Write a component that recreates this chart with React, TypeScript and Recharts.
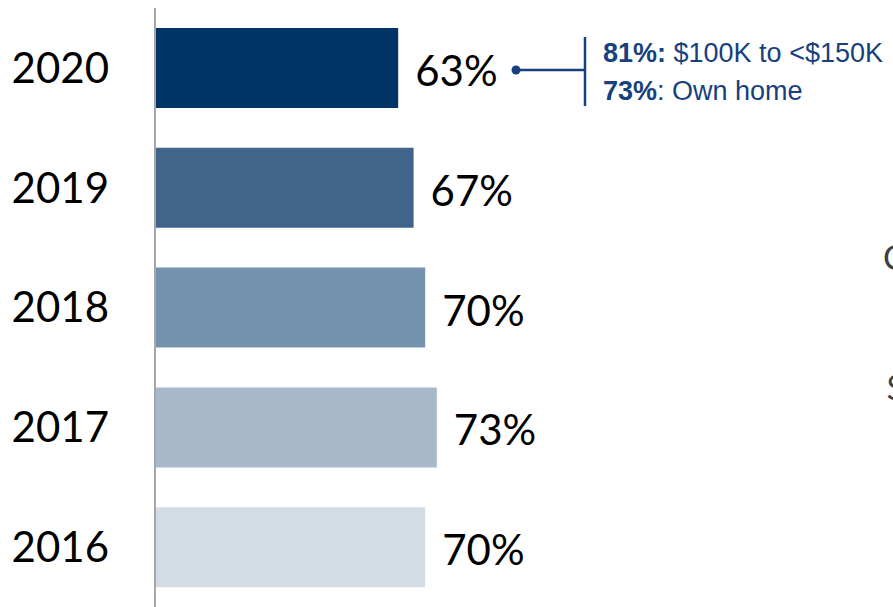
import { BarChart, Bar, XAxis, YAxis, Cell, LabelList } from 'recharts';

const years = ['2020', '2019', '2018', '2017', '2016'];
const shares = [63, 67, 70, 73, 70];
const COLORS = ['#003366', '#41658A', '#7491AE', '#A7B8CB', '#D3DCE5'];

const noteLines = [
  { lead: '81%:', rest: ' $100K to <$150K' },
  { lead: '73%', rest: ': Own home' },
];

const data = years.map((year, i) => ({ year, value: shares[i] }));

const NAVY = '#17407E';

export default function App() {
  return (
    <div style={{ position: 'absolute', left: 0, top: 0, width: 893, height: 607, overflow: 'hidden', background: '#fff' }}>
      <BarChart
        width={893}
        height={607}
        data={data}
        layout="vertical"
        margin={{ top: 8, right: 352, bottom: 0, left: 0 }}
      >
        <XAxis type="number" domain={[0, 100]} hide />
        <YAxis
          type="category"
          dataKey="year"
          width={155}
          tickLine={false}
          tickSize={0}
          tickMargin={46}
          axisLine={{ stroke: '#A6A6A6', strokeWidth: 2 }}
          tick={{ fill: '#000', fontSize: 42, fontFamily: 'Lato' }}
        />
        <Bar dataKey="value" barSize={80} isAnimationActive={false}>
          {data.map((entry, index) => (
            <Cell key={`cell-${index}`} fill={COLORS[index % COLORS.length]} />
          ))}
          <LabelList
            dataKey="value"
            position="right"
            offset={17}
            dy={3}
            formatter={(v: number) => `${v}%`}
            style={{ fill: '#000', fontSize: 42, fontFamily: 'Lato' }}
          />
        </Bar>
      </BarChart>

      {/* callout next to the 2020 bar */}
      <svg width={893} height={607} style={{ position: 'absolute', left: 0, top: 0, pointerEvents: 'none' }}>
        <circle cx={516} cy={70} r={4.5} fill={NAVY} />
        <line x1={516} y1={70} x2={585} y2={70} stroke={NAVY} strokeWidth={2.5} />
        <line x1={585} y1={37} x2={585} y2={106} stroke={NAVY} strokeWidth={2.5} />
        {noteLines.map((l, i) => (
          <text key={i} x={603} y={62 + i * 38} fontFamily="Liberation Sans, Arial" fontSize={27} fill={NAVY}>
            <tspan fontWeight="bold">{l.lead}</tspan>
            <tspan>{l.rest}</tspan>
          </text>
        ))}
        <text x={883} y={270} fontFamily="Lato" fontSize={34} fill="#404040">C</text>
        <text x={886} y={400} fontFamily="Lato" fontSize={34} fill="#404040">$</text>
      </svg>
    </div>
  );
}
